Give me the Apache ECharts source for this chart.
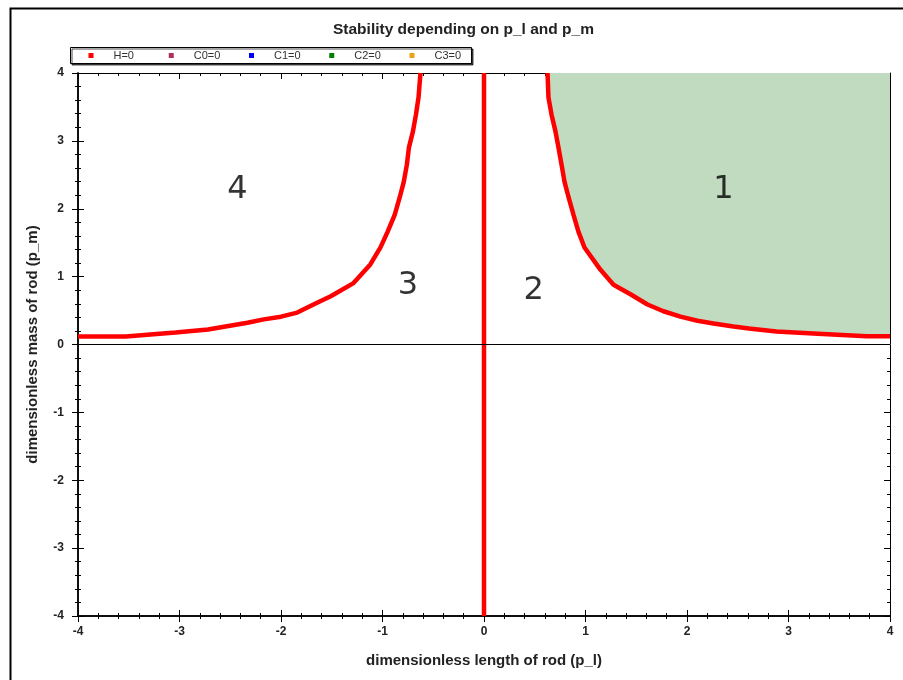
<!DOCTYPE html>
<html>
<head>
<meta charset="utf-8">
<script src="https://cdn.jsdelivr.net/npm/echarts@6/dist/echarts.min.js"></script>
<style>html,body{margin:0;padding:0;background:#fff}#c{width:903px;height:680px}</style>
</head>
<body>
<div id="c"></div>
<script>
// Right branch of H=0 (p_l > 0)
const rightPl = [0.626, 0.635, 0.665, 0.704, 0.734, 0.764, 0.793, 0.833, 0.882, 0.931, 0.99, 1.148, 1.276, 1.443, 1.611, 1.768, 1.936, 2.103, 2.261, 2.458, 2.61, 2.88, 3.29, 3.77, 4.0];
const rightPm = [4.0, 3.64, 3.39, 3.14, 2.90, 2.65, 2.40, 2.17, 1.91, 1.66, 1.43, 1.10, 0.88, 0.74, 0.59, 0.49, 0.41, 0.35, 0.31, 0.265, 0.236, 0.19, 0.16, 0.12, 0.12];
// Left branch of H=0 (p_l < 0)
const leftPl = [-4.0, -3.53, -3.04, -2.72, -2.33, -2.17, -2.0, -1.84, -1.68, -1.51, -1.29, -1.12, -1.02, -0.95, -0.88, -0.83, -0.79, -0.76, -0.74, -0.70, -0.67, -0.645, -0.626];
const leftPm = [0.118, 0.118, 0.177, 0.22, 0.32, 0.37, 0.41, 0.47, 0.59, 0.71, 0.90, 1.18, 1.43, 1.66, 1.91, 2.17, 2.40, 2.65, 2.90, 3.14, 3.39, 3.64, 4.0];
// Vertical branch p_l = 0
const midPl = [0, 0];
const midPm = [-4, 4];
// Region labels
const regionNames = ['1', '2', '3', '4'];
const regionPl = [2.36, 0.49, -0.75, -2.43];
const regionPm = [2.28, 0.80, 0.87, 2.28];
// Legend entries
const legendNames = ['H=0', 'C0=0', 'C1=0', 'C2=0', 'C3=0'];
const legendColors = ['#ff0000', '#b0305a', '#0000ff', '#008000', '#e8a317'];
const axisMin = -4, axisMax = 4;

const zip = (a, b) => a.map((v, i) => [v, b[i]]);

const chart = echarts.init(document.getElementById('c'), null, {renderer: 'canvas'});
const font = 'Liberation Sans, Arial, sans-serif';

function axisBase(extra) {
  return Object.assign({
    type: 'value', min: axisMin, max: axisMax, interval: 1,
    splitLine: {show: false},
    axisLine: {show: true, onZero: false, lineStyle: {color: '#000', width: 1.5}},
    axisTick: {show: true, length: 6, lineStyle: {color: '#000', width: 1}},
    minorTick: {show: true, splitNumber: 5, length: 3, lineStyle: {color: '#000', width: 1}},
    axisLabel: {show: false}
  }, extra);
}

const series = [
  {
    name: 'H=0', type: 'line', data: zip(rightPl, rightPm), symbol: 'none',
    lineStyle: {color: '#ff0000', width: 4.5},
    areaStyle: {color: '#c1dbc1', opacity: 1, origin: 'end'},
    z: 3
  },
  {
    name: 'H=0', type: 'line', data: zip(leftPl, leftPm), symbol: 'none',
    lineStyle: {color: '#ff0000', width: 4.5}, z: 3
  },
  {
    name: 'H=0', type: 'line', data: zip(midPl, midPm), symbol: 'none',
    lineStyle: {color: '#ff0000', width: 4.5}, z: 4,
    markLine: {
      silent: true, symbol: 'none', label: {show: false},
      lineStyle: {color: '#000', width: 1, type: 'solid'},
      data: [{yAxis: 0}]
    }
  },
  {name: 'C0=0', type: 'line', data: []},
  {name: 'C1=0', type: 'line', data: []},
  {name: 'C2=0', type: 'line', data: []},
  {name: 'C3=0', type: 'line', data: []},
  {
    name: 'regions', type: 'scatter', symbolSize: 0,
    data: regionNames.map((n, i) => ({name: n, value: [regionPl[i], regionPm[i]]})),
    label: {show: true, position: 'inside', formatter: p => p.name,
      fontSize: 32, fontFamily: 'DejaVu Sans, Verdana, sans-serif', color: '#000'},
    z: 5
  }
];

const legends = legendNames.map((n, i) => ({
  data: [{name: n, itemStyle: {color: legendColors[i]}}],
  left: 88.5 + 80.25 * i, top: 50, padding: 0,
  icon: 'rect', itemWidth: 5, itemHeight: 5,
  textStyle: {fontSize: 11, color: '#333', fontFamily: font, padding: [0, 0, 0, 15]}
}));

chart.setOption({
  animation: false,
  color: legendColors,
  title: {
    text: 'Stability depending on p_l and p_m', left: 328, top: 17,
    textStyle: {fontSize: 15.5, fontWeight: 'bold', color: '#222', fontFamily: font}
  },
  legend: legends,
  grid: {left: 78, right: 13, top: 73, bottom: 64},
  xAxis: [
    axisBase({
      position: 'bottom',
      axisLabel: {show: true, fontSize: 12, fontWeight: 'bold', color: '#222', fontFamily: font, margin: 10},
      name: 'dimensionless length of rod (p_l)', nameLocation: 'middle', nameGap: 37,
      nameTextStyle: {fontSize: 15, fontWeight: 'bold', color: '#222', fontFamily: font}
    }),
    axisBase({position: 'bottom', axisTick: {show: true, inside: true, length: 6, lineStyle: {color: '#000'}}}),
    axisBase({position: 'top', axisLine: {show: true, onZero: false, lineStyle: {color: '#000', width: 1}},
      axisTick: {show: true, inside: true, length: 6, lineStyle: {color: '#000'}}})
  ],
  yAxis: [
    axisBase({
      position: 'left',
      axisLabel: {show: true, fontSize: 12, fontWeight: 'bold', color: '#222', fontFamily: font, margin: 14},
      name: 'dimensionless mass of rod (p_m)', nameLocation: 'middle', nameGap: 38,
      nameTextStyle: {fontSize: 15, fontWeight: 'bold', color: '#222', fontFamily: font}
    }),
    axisBase({position: 'left', axisTick: {show: true, inside: true, length: 6, lineStyle: {color: '#000'}}}),
    axisBase({position: 'right', axisLine: {show: true, onZero: false, lineStyle: {color: '#000', width: 1}},
      axisTick: {show: true, inside: true, length: 6, lineStyle: {color: '#000'}}})
  ],
  graphic: [
    {type: 'rect', left: 8, top: 6, shape: {width: 1200, height: 1200},
      style: {fill: null, stroke: '#000', lineWidth: 2}, silent: true, z: 0},
    {type: 'rect', shape: {x: 70.5, y: 47.5, width: 401, height: 16},
      style: {fill: '#fff', stroke: '#000', lineWidth: 1,
        shadowColor: 'rgba(0,0,0,0.7)', shadowOffsetX: 1.5, shadowOffsetY: 1.5, shadowBlur: 0},
      silent: true, z: -1}
  ],
  series: series
});
</script>
</body>
</html>
